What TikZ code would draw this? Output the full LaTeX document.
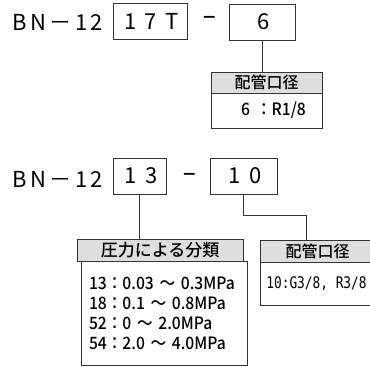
\documentclass[tikz,border=0pt]{standalone}
\usepackage{fontspec}
\setmainfont{Noto Sans CJK JP Medium}
\newfontfamily\weit[LetterSpace=16]{Noto Sans CJK JP}
\newfontfamily\feldfont[LetterSpace=38]{Noto Sans CJK JP}
\newfontfamily\eng[FakeStretch=0.92]{Noto Sans CJK JP Medium}
\newfontfamily\schmal[FakeStretch=0.8]{DejaVu Sans Mono}
\usetikzlibrary{positioning}
\definecolor{rahmen}{HTML}{333333}
\definecolor{kopf}{HTML}{DEDEDE}
\tikzstyle{kode}=[anchor=base west,inner sep=0pt,font=\weit\fontsize{22}{26}\selectfont]
\tikzstyle{feld}=[rectangle,draw=rahmen,line width=.8pt,inner sep=0pt,font=\feldfont\fontsize{22}{26}\selectfont]
\tikzstyle{strich}=[inner sep=0pt,font=\fontsize{22}{26}\selectfont]
\tikzstyle{kopfzeile}=[rectangle,draw=rahmen,fill=kopf,line width=.8pt,inner sep=0pt,font=\fontsize{16}{18}\selectfont]
\tikzstyle{inhalt}=[rectangle,draw=rahmen,line width=.8pt,inner sep=0pt,font=\eng\fontsize{17}{20}\selectfont]
\tikzstyle{linie}=[draw=rahmen,line width=.8pt]

\begin{document}
\begin{tikzpicture}[x=1pt,y=-1pt]
\clip (0,0) rectangle (370,367);
% erste Zeile
\node[kode] (bn1) at (12,30) {BN－12};
\node[feld,minimum width=74pt,minimum height=36pt] (w17t) at (150,21) {\hspace*{3pt}17T};
\node[strich] (s1) at (210,21) {−};
\node[feld,minimum width=66pt,minimum height=36pt] (w6) at (262,22) {\hspace*{3pt}6};
\node[kopfzeile,minimum width=111pt,minimum height=21pt] (rohr1) at (266.5,82.5) {配管口径};
\node[inhalt,minimum width=111pt,minimum height=35pt] (rohr1w) at (266.5,110.5) {\hspace*{14pt}6\hspace{6pt}：R1/8};
\draw[linie] (w6.south) -- (w6.south |- rohr1.north);
% zweite Zeile
\node[kode] (bn2) at (12,187) {BN－12};
\node[feld,minimum width=53pt,minimum height=36pt] (w13) at (139.5,176) {\hspace*{3pt}13};
\node[strich] (s2) at (189.5,178) {−};
\node[feld,minimum width=67pt,minimum height=36pt] (w10) at (243.5,176) {\hspace*{3pt}10};
\node[kopfzeile,minimum width=166pt,minimum height=22pt,font=\fontsize{17}{18}\selectfont] (druck) at (160,250) {圧力による分類};
\node[inhalt,minimum width=166pt,minimum height=104pt,text width=150pt,align=left] (druckw) at (164,313)
  {13：0.03 ～ 0.3MPa\\18：0.1 ～ 0.8MPa\\52：0 ～ 2.0MPa\\54：2.0 ～ 4.0MPa};
\node[kopfzeile,minimum width=115pt,minimum height=22pt] (rohr2) at (317.5,251) {配管口径};
\node[inhalt,minimum width=115pt,minimum height=43pt,font=\schmal\fontsize{16}{18}\selectfont] (rohr2w) at (317.5,283.5) {\hspace*{-2pt}10:G3/8, R3/8};
\coordinate (knick) at (306,215);
\draw[linie] (w13.south) -- (w13.south |- druck.north);
\draw[linie] (w10.south) |- (knick) -- (knick |- rohr2.north);
\end{tikzpicture}
\end{document}
